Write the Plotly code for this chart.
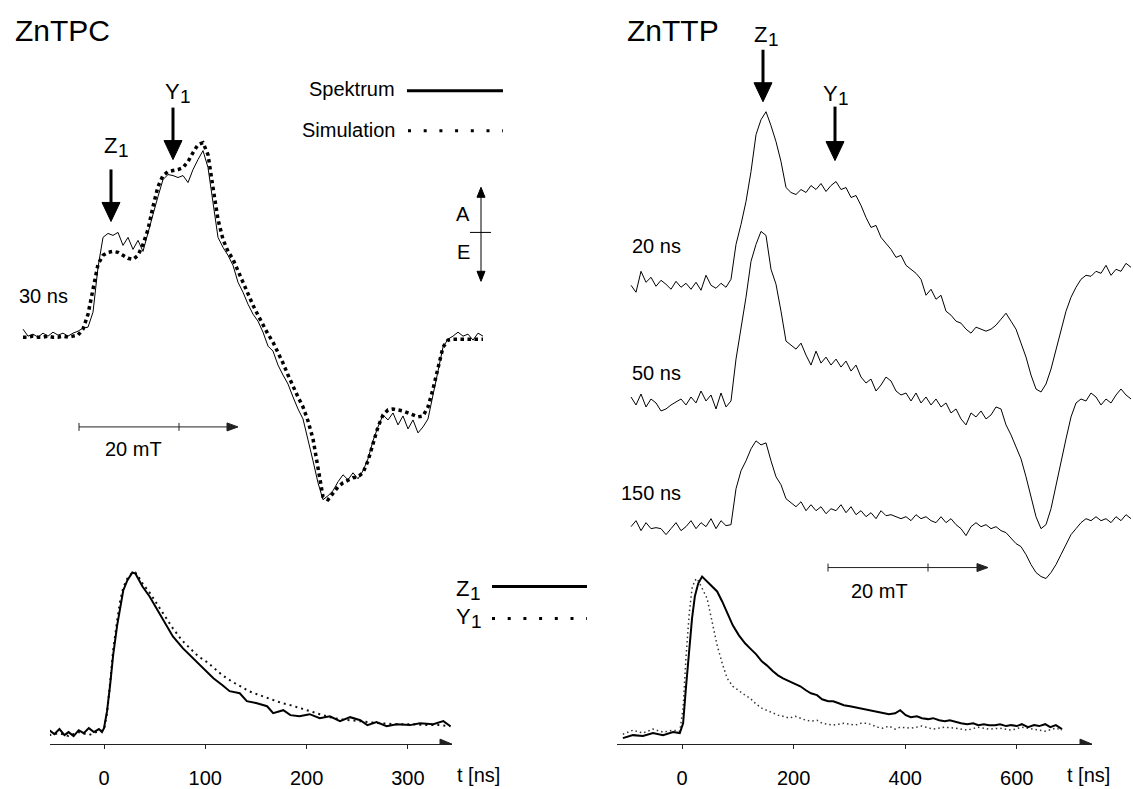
import plotly.graph_objects as go

W, H = 1133, 789
FONT = "Liberation Sans, Arial, Helvetica, sans-serif"

# ---------------- data ----------------
# ZnTPC, 30 ns: field offset (mT) and EPR signal (a.u.)
tpc_field_mT = list(range(93))
tpc_spectrum = [
    0.8, 0.1, 0.3, 0.0, 0.4, 0.1, 0.5, 0.2, 0.4, 0.1,
    0.4, 0.6, 0.9, 1.0, 2.5, 7.0, 10.0, 10.4, 10.2, 10.5,
    9.2, 10.0, 8.8, 9.7, 8.6, 10.6, 12.3, 14.1, 15.8, 16.3,
    16.2, 16.0, 16.2, 15.5, 16.8, 17.8, 18.7, 17.0, 13.3, 10.0,
    9.0, 8.2, 7.2, 5.5, 4.5, 3.3, 2.3, 1.6, 0.5, -0.9,
    -1.4, -2.8, -3.8, -4.7, -6.0, -7.2, -8.2, -10.2, -12.4, -14.6,
    -16.3, -15.9, -15.4, -14.5, -13.8, -14.3, -13.6, -14.2, -13.4, -12.2,
    -10.4, -9.0, -7.8, -8.3, -7.6, -8.8, -7.9, -9.2, -8.3, -9.6,
    -9.0, -8.2, -5.8, -3.4, -1.0, -0.2, 0.1, 0.5, 0.1, 0.3,
    -0.3, 0.4, 0.1,
]
tpc_simulation = [
    0.0, 0.0, 0.1, 0.0, 0.0, 0.1, 0.0, 0.0, 0.1, 0.0,
    0.1, 0.2, 0.8, 2.3, 4.8, 7.3, 8.2, 8.5, 8.6, 8.5,
    8.2, 7.9, 7.8, 8.2, 9.3, 10.8, 13.1, 15.1, 16.2, 16.6,
    16.7, 16.8, 17.0, 17.6, 18.5, 19.3, 19.5, 18.3, 15.0, 11.8,
    9.8, 8.6, 7.8, 6.6, 5.4, 4.3, 3.2, 2.2, 1.2, 0.3,
    -0.5, -1.5, -2.6, -3.8, -5.0, -6.0, -7.0, -8.4, -10.2, -13.2,
    -16.0, -16.3, -15.6, -15.0, -14.6, -14.3, -14.1, -14.0, -13.6, -12.4,
    -10.7, -9.0, -7.8, -7.3, -7.2, -7.3, -7.4, -7.6, -7.8, -8.0,
    -7.9, -7.0, -5.2, -3.0, -1.0, -0.3, -0.2, -0.2, -0.2, -0.2,
    -0.2, -0.2, -0.2,
]

# ZnTTP spectra at 20 / 50 / 150 ns
ttp_field_mT = list(range(101))
ttp_20ns = [
    -0.2, -0.9, 1.2, 0.1, 0.6, -0.3, 0.3, -0.1, -0.6, 0.2,
    -0.4, 0.0, -0.6, 0.1, -0.7, 0.8, -0.2, -0.5, 0.0, -0.4,
    0.4, 3.9, 5.9, 8.2, 11.2, 14.9, 16.4, 17.2, 15.8, 14.2,
    12.2, 9.6, 9.1, 8.9, 9.4, 9.1, 9.8, 9.4, 10.0, 9.2,
    9.8, 10.2, 9.4, 9.6, 8.6, 8.8, 7.8, 6.6, 5.6, 5.8,
    4.6, 4.0, 3.4, 2.6, 2.8, 1.8, 1.4, 1.0, 0.4, -1.2,
    -0.6, -1.6, -1.2, -2.8, -3.2, -3.8, -4.0, -4.6, -5.0, -4.4,
    -4.6, -4.8, -4.6, -4.2, -3.6, -3.0, -3.8, -4.6, -6.0, -7.4,
    -9.2, -10.6, -10.9, -10.1, -8.6, -6.6, -4.6, -2.8, -1.4, -0.4,
    0.4, 0.8, 0.7, 1.2, 1.0, 1.8, 0.8, 1.4, 1.2, 2.0,
    1.6,
]
ttp_50ns = [
    0.6, -0.2, 0.9, -0.4, 0.4, 0.0, -0.8, -0.6, -0.2, 0.1,
    0.4, -0.2, 0.6, 0.0, 1.2, 0.2, 0.8, -0.6, 1.0, -0.4,
    0.2, 4.4, 7.4, 10.6, 14.2, 15.9, 17.2, 16.8, 13.4, 11.9,
    9.2, 6.2, 5.8, 5.4, 6.0, 4.8, 3.8, 5.2, 4.0, 4.6,
    3.8, 4.4, 3.6, 4.2, 3.2, 3.8, 2.6, 2.0, 2.4, 1.2,
    1.8, 2.6, 2.2, 1.2, 0.8, 1.0, 0.2, 1.0, 0.0, 0.6,
    -0.2, 0.4, -0.4, 0.0, -1.0, -0.6, -1.6, -2.2, -1.0, -1.4,
    -0.8, -1.6, -1.2, -0.4, -0.6, -2.2, -3.2, -4.4, -5.6, -7.4,
    -9.4, -11.4, -12.6, -12.2, -10.6, -8.2, -6.0, -3.6, -1.4, 0.0,
    0.4, 0.2, 1.0, 0.6, -0.2, 0.4, 0.0, 0.8, 1.4, 0.8,
    0.4,
]
ttp_150ns = [
    0.0, 0.6, -0.4, 0.4, -0.2, -0.1, -0.2, -0.8, -0.2, 0.4,
    -0.4, 0.0, 0.6, -0.2, 0.4, 0.0, 0.8, -0.2, 0.6, 0.1,
    0.2, 3.8, 5.6, 6.6, 7.8, 8.6, 8.2, 8.4, 6.6, 5.0,
    4.2, 2.8, 2.4, 2.0, 2.5, 1.6, 2.2, 1.6, 2.0, 1.3,
    1.8, 1.6, 2.2, 1.4, 2.0, 1.2, 1.6, 1.0, 1.4, 0.8,
    1.6, 1.1, 1.2, 1.0, 0.8, 1.0, 0.6, 1.2, 0.8, 1.0,
    0.6, 0.4, 1.0, 0.4, 0.8, 0.2, -0.2, -0.9, 0.0, 0.4,
    0.0, 0.2, -0.2, 0.0, -0.4, -0.6, -1.2, -1.7, -2.0, -2.8,
    -3.8, -4.6, -5.0, -5.2, -4.6, -3.8, -2.8, -1.8, -0.8, -0.2,
    0.4, 0.8, 0.6, 1.0, 0.6, 0.8, 0.4, 1.0, 0.6, 1.2,
    0.8,
]

# Time traces (t in ns, amplitude in % of maximum)
tpc_t_z1 = [-54, -49, -44, -39, -35, -30, -25, -20, -15, -10,
            -5, -2, 0, 3, 6, 9, 13, 16, 19, 23,
            28, 31, 34, 38, 45, 52, 58, 62, 68, 78,
            88, 98, 108, 117, 124, 134, 141, 151, 161, 167,
            177, 184, 193, 203, 213, 223, 233, 243, 253, 260,
            269, 279, 289, 302, 312, 325, 335, 342]
tpc_z1 = [0.6, -1.9, 1.3, -2.5, -0.6, -3.1, 0.6, -1.3, 1.9, -0.6,
          1.3, -0.6, 1.9, 12.6, 28.9, 47.8, 66.7, 79.2, 88.7, 95.0,
          100, 99.4, 96.2, 91.2, 84.9, 77.4, 71.1, 66.7, 59.7, 52.2,
          45.9, 39.6, 33.3, 28.9, 25.2, 23.9, 18.9, 17.6, 15.7, 11.3,
          13.2, 10.1, 9.4, 10.7, 8.2, 9.4, 6.3, 8.8, 6.9, 3.8,
          5.7, 3.1, 4.4, 3.8, 5.0, 4.4, 6.3, 3.1]
tpc_t_y1 = [-54, -44, -35, -25, -15, -5, 0, 3, 6, 9,
            13, 16, 19, 23, 28, 31, 34, 38, 45, 52,
            60, 68, 77, 85, 93, 102, 110, 117, 126, 134,
            143, 151, 159, 167, 176, 184, 193, 203, 213, 223,
            233, 243, 258, 272, 287, 302, 317, 332, 342]
tpc_y1 = [-2.5, -1.3, -3.1, -0.6, -2.5, 0, 0.6, 11.3, 30.2, 50.9,
          69.8, 82.4, 90.6, 96.2, 100, 100, 97.5, 93.1, 87.4, 80.5,
          72.3, 64.8, 57.2, 52.2, 47.2, 43.4, 39.0, 35.2, 31.4, 28.3,
          25.2, 23.3, 21.4, 19.5, 17.6, 16.4, 14.5, 12.6, 10.7, 8.8,
          7.5, 6.9, 5.7, 5.0, 4.4, 4.4, 3.8, 3.8, 3.1]

ttp_t_z1 = [-106, -88, -70, -52, -34, -16, -4,
            2, 7, 13, 18, 23, 29, 36,
            45, 54, 63, 72, 81, 91, 102, 113, 122, 133,
            143, 152, 163, 172, 181, 192, 202, 212, 222, 231,
            242, 251, 262, 271, 281, 290, 301, 310, 321, 332,
            341, 351, 360, 371, 382, 391, 401, 410, 421, 430,
            441, 450, 461, 471, 480, 491, 500, 511, 522, 531,
            541, 550, 561, 570, 581, 590, 600, 609, 620, 631,
            640, 651, 660, 670, 681]
ttp_z1 = [-1.9, 0, -0.6, 1.3, 0, 1.9, 1.3,
          7.5, 29.6, 54.7, 73.6, 87.4, 95.6, 100,
          96.9, 93.7, 90.6, 84.3, 76.7, 69.2, 62.9, 57.9, 54.7, 50.9,
          46.5, 44.0, 40.3, 37.7, 35.8, 34.0, 32.1, 30.8, 28.3, 26.4,
          25.2, 22.6, 21.4, 21.4, 20.1, 18.9, 18.2, 17.6, 16.4, 15.7,
          15.1, 14.5, 13.8, 13.2, 13.8, 15.7, 12.6, 11.3, 11.9, 10.7,
          10.1, 10.7, 9.4, 8.8, 9.4, 8.2, 7.5, 6.9, 7.5, 6.3,
          6.9, 6.3, 6.3, 6.9, 5.7, 6.3, 5.7, 6.9, 5.0, 6.3,
          5.7, 6.9, 5.0, 6.3, 3.8]
ttp_t_y1 = [-106, -88, -70, -52, -34, -16, -4,
            2, 7, 13, 18, 23, 27, 32, 38, 45, 54,
            63, 72, 81, 91, 102, 113, 122, 133, 143, 152,
            163, 172, 181, 192, 203, 211, 222, 231, 242, 251,
            262, 271, 281, 290, 301, 310, 321, 332, 341, 351,
            360, 371, 382, 391, 410, 430, 450, 471, 491, 511,
            530, 550, 570, 590, 609, 631, 651, 670, 681]
ttp_y1 = [0.6, 3.1, 1.3, 3.8, 1.9, 3.1, 2.5,
          17.0, 48.4, 76.7, 92.5, 97.5, 98.7, 95.6, 91.2, 86.2, 72.3,
          56.6, 45.3, 35.8, 30.8, 27.7, 25.2, 23.3, 19.5, 17.0, 15.7,
          13.8, 12.6, 11.9, 10.7, 11.9, 10.7, 9.4, 8.8, 9.4, 7.5,
          6.9, 6.3, 6.9, 7.5, 6.9, 6.3, 7.5, 7.5, 6.3, 5.0,
          4.4, 5.7, 3.8, 5.0, 4.4, 5.7, 3.8, 5.0, 4.4, 3.1,
          5.0, 3.8, 4.4, 3.1, 5.0, 3.8, 2.5, 4.4, 3.1]

tpc_ticks = [0, 100, 200, 300]
ttp_ticks = [0, 200, 400, 600]
scale_bar_mT = 20


# ---------------- helpers (pixel layout -> axis ranges) ----------------
def xr(p0, s, a=0, b=W):
    return [(a - p0) / s, (b - p0) / s]


def yr(p0, s, top=0, bottom=H):
    return [(p0 - bottom) / s, (p0 - top) / s]


def px(x):
    return x / W


def py(y):
    return 1 - y / H


def txt(s, x, y, size=20, xanchor="center"):
    return dict(text=s, x=px(x), y=py(y), xref="paper", yref="paper",
                showarrow=False, xanchor=xanchor, yanchor="middle",
                font=dict(size=size, family=FONT, color="black"))


def pix(xref, yref, x, y, **kw):
    d = dict(xref=xref, yref=yref, xsizemode="pixel", ysizemode="pixel",
             xanchor=x, yanchor=y)
    d.update(kw)
    return d


def down_arrow(xref, yref, x, y, length, hw=9, hl=19, lw=3, color="black"):
    return [
        pix(xref, yref, x, y, type="line", x0=0, x1=0, y0=hl - 2, y1=length,
            line=dict(color=color, width=lw)),
        pix(xref, yref, x, y, type="path",
            path=f"M{-hw},{hl} L{hw},{hl} L0,0 Z",
            fillcolor=color, line=dict(color=color, width=1)),
    ]


def right_head(xref, yref, x, y, hw=4.5, hl=12, color="#222"):
    return pix(xref, yref, x, y, type="path",
               path=f"M0,0 L{-hl},{hw} L{-hl},{-hw} Z",
               fillcolor=color, line=dict(color=color, width=1))


# ---------------- figure ----------------
fig = go.Figure()

# ZnTPC spectrum
fig.add_trace(go.Scatter(x=tpc_field_mT, y=tpc_simulation, xaxis="x", yaxis="y",
                         mode="lines", line=dict(color="black", width=3.5, dash="dot")))
fig.add_trace(go.Scatter(x=tpc_field_mT, y=tpc_spectrum, xaxis="x", yaxis="y",
                         mode="lines", line=dict(color="black", width=1)))

# ZnTTP spectra
fig.add_trace(go.Scatter(x=ttp_field_mT, y=ttp_20ns, xaxis="x2", yaxis="y2",
                         mode="lines", line=dict(color="black", width=1)))
fig.add_trace(go.Scatter(x=ttp_field_mT, y=ttp_50ns, xaxis="x2", yaxis="y3",
                         mode="lines", line=dict(color="black", width=1)))
fig.add_trace(go.Scatter(x=ttp_field_mT, y=ttp_150ns, xaxis="x2", yaxis="y4",
                         mode="lines", line=dict(color="black", width=1)))

# time traces
fig.add_trace(go.Scatter(x=tpc_t_y1, y=tpc_y1, xaxis="x3", yaxis="y5", mode="lines",
                         line=dict(color="#111", width=2, dash="2px,4px")))
fig.add_trace(go.Scatter(x=tpc_t_z1, y=tpc_z1, xaxis="x3", yaxis="y5", mode="lines",
                         line=dict(color="black", width=2)))
fig.add_trace(go.Scatter(x=ttp_t_y1, y=ttp_y1, xaxis="x4", yaxis="y6", mode="lines",
                         line=dict(color="#333", width=1.5, dash="1.5px,3px")))
fig.add_trace(go.Scatter(x=ttp_t_z1, y=ttp_z1, xaxis="x4", yaxis="y6", mode="lines",
                         line=dict(color="black", width=2)))

hidden = dict(visible=False, showgrid=False, zeroline=False, fixedrange=True)
time_axis = dict(showline=True, linecolor="#222", linewidth=1, ticks="outside",
                 ticklen=4, tickwidth=1, tickcolor="#222", showgrid=False,
                 zeroline=False, ticklabelstandoff=12, fixedrange=True,
                 tickfont=dict(size=20, family=FONT, color="black"))

tpc_t_range = xr(104, 1.013, 50, 452)
tpc_a_range = yr(733, 1.59, 560, 746)
ttp_t_range = xr(682, 0.558, 617, 1092)
ttp_a_range = yr(737, 1.59, 560, 746)

fig.update_layout(
    width=W, height=H, autosize=False,
    margin=dict(l=0, r=0, t=0, b=0),
    paper_bgcolor="white", plot_bgcolor="rgba(0,0,0,0)",
    showlegend=False,
    xaxis=dict(domain=[0, 1], range=xr(23, 5), anchor="y", **hidden),
    yaxis=dict(domain=[0, 1], range=yr(338, 10), anchor="x", **hidden),
    xaxis2=dict(domain=[0, 1], range=xr(631, 5), anchor="y2", **hidden),
    yaxis2=dict(domain=[0, 1], range=yr(284, 10), anchor="x2", **hidden),
    yaxis3=dict(range=yr(404, 10), overlaying="y2", anchor="x2", **hidden),
    yaxis4=dict(range=yr(528, 10), overlaying="y2", anchor="x2", **hidden),
    xaxis3=dict(domain=[px(50), px(452)], range=tpc_t_range,
                anchor="y5", tickvals=tpc_ticks, **time_axis),
    yaxis5=dict(domain=[py(746), py(560)], range=tpc_a_range,
                anchor="x3", **hidden),
    xaxis4=dict(domain=[px(617), px(1092)], range=ttp_t_range,
                anchor="y6", tickvals=ttp_ticks, **time_axis),
    yaxis6=dict(domain=[py(746), py(560)], range=ttp_a_range,
                anchor="x4", **hidden),
)

ann = []
# titles and labels
ann.append(txt("ZnTPC", 13, 31, 30, "left"))
ann.append(txt("ZnTTP", 625, 31, 30, "left"))
ann.append(txt("30 ns", 44, 297))
ann.append(txt("20 ns", 656, 247))
ann.append(txt("50 ns", 656, 374))
ann.append(txt("150 ns", 651, 494))
# Z1 / Y1 labels: letter plus lowered index
for letter, (lx, ly) in [("Z", (110, 146)), ("Y", (172, 92)),
                         ("Z", (760, 35)), ("Y", (830, 94)),
                         ("Z", (462, 590)), ("Y", (463, 618))]:
    ann.append(txt(letter, lx, ly, 22))
    ann.append(txt("1", lx + 13, ly + 5, 19))
ann.append(txt("Spektrum", 397, 89, 20, "right"))
ann.append(txt("Simulation", 397, 130, 20, "right"))
ann.append(txt("A", 463, 215))
ann.append(txt("E", 463, 253))
ann.append(txt("20 mT", 133, 450))
ann.append(txt("20 mT", 879, 593))
ann.append(txt("t [ns]", 479, 777))
ann.append(txt("t [ns]", 1088, 777))
fig.update_layout(annotations=ann)

shapes = []
# Z1 / Y1 position arrows
shapes += down_arrow("x", "y", (111 - 23) / 5, (338 - 222) / 10, 52)
shapes += down_arrow("x", "y", (173 - 23) / 5, (338 - 160) / 10, 52)
shapes += down_arrow("x2", "y2", (763 - 631) / 5, (284 - 102) / 10, 52)
shapes += down_arrow("x2", "y2", (835 - 631) / 5, (284 - 161) / 10, 54)

# A/E double arrow with crossbar
shapes.append(pix("paper", "paper", px(481), py(282), type="line", x0=0, x1=0, y0=6, y1=88,
                  line=dict(color="black", width=1)))
shapes.append(pix("paper", "paper", px(481), py(282), type="path",
                  path="M-4,10 L4,10 L0,0 Z", fillcolor="black",
                  line=dict(color="black", width=1)))
shapes.append(pix("paper", "paper", px(481), py(282), type="path",
                  path="M-4,84 L4,84 L0,94 Z", fillcolor="black",
                  line=dict(color="black", width=1)))
shapes.append(dict(type="line", xref="paper", yref="paper", x0=px(470), x1=px(491),
                   y0=py(233), y1=py(233), line=dict(color="black", width=1)))

# scale bars (field axis units)
sb_y_left = (338 - 428) / 10
sb_x0_left = (79 - 23) / 5
sb_tip_left = sb_x0_left + 31.8
shapes.append(dict(type="line", xref="x", yref="y", x0=sb_x0_left, x1=sb_tip_left - 1,
                   y0=sb_y_left, y1=sb_y_left, line=dict(color="#222", width=1)))
shapes.append(right_head("x", "y", sb_tip_left, sb_y_left, hw=4, hl=11))
for xv in (sb_x0_left, sb_x0_left + scale_bar_mT):
    shapes.append(dict(type="line", xref="x", yref="y", x0=xv, x1=xv,
                       y0=sb_y_left - 0.4, y1=sb_y_left + 0.4,
                       line=dict(color="#222", width=1)))
sb_y_right = (528 - 569) / 10
sb_x0_right = (828 - 631) / 5
sb_tip_right = sb_x0_right + 32
shapes.append(dict(type="line", xref="x2", yref="y4", x0=sb_x0_right, x1=sb_tip_right - 1,
                   y0=sb_y_right, y1=sb_y_right, line=dict(color="#222", width=1)))
shapes.append(right_head("x2", "y4", sb_tip_right, sb_y_right, hw=4, hl=11))
for xv in (sb_x0_right, sb_x0_right + scale_bar_mT):
    shapes.append(dict(type="line", xref="x2", yref="y4", x0=xv, x1=xv,
                       y0=sb_y_right - 0.4, y1=sb_y_right + 0.4,
                       line=dict(color="#222", width=1)))

# time axis arrowheads
shapes.append(right_head("x3", "y5", tpc_t_range[1], tpc_a_range[0], hw=5, hl=12))
shapes.append(right_head("x4", "y6", ttp_t_range[1], ttp_a_range[0], hw=5, hl=12))

# legend samples
shapes.append(dict(type="line", xref="paper", yref="paper", x0=px(407), x1=px(503),
                   y0=py(91), y1=py(91), line=dict(color="black", width=3)))
shapes.append(dict(type="line", xref="paper", yref="paper", x0=px(408), x1=px(503),
                   y0=py(131), y1=py(131), line=dict(color="black", width=3, dash="3px,12.7px")))
shapes.append(dict(type="line", xref="paper", yref="paper", x0=px(492), x1=px(587),
                   y0=py(588), y1=py(588), line=dict(color="black", width=3)))
shapes.append(dict(type="line", xref="paper", yref="paper", x0=px(492), x1=px(587),
                   y0=py(620), y1=py(620), line=dict(color="black", width=3, dash="3px,12.7px")))
fig.update_layout(shapes=shapes)

fig.write_html("out.html", config={"displayModeBar": False},
               post_script="document.body.style.margin='0';")
